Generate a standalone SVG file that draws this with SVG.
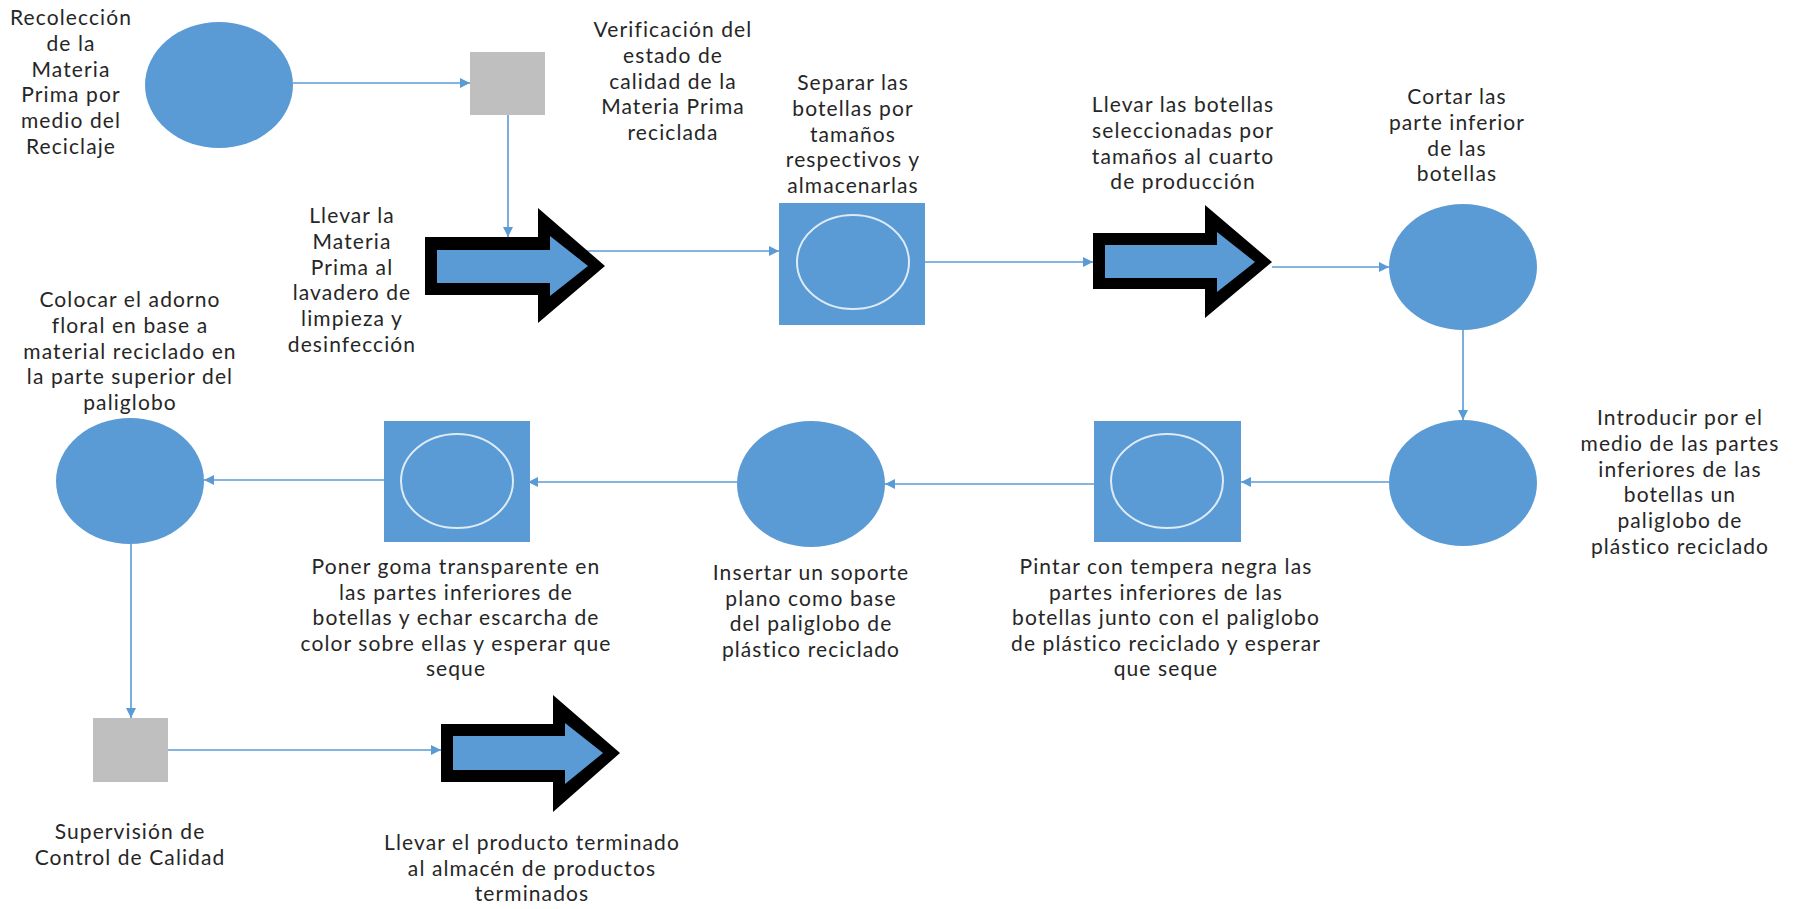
<svg xmlns="http://www.w3.org/2000/svg" width="1798" height="909" viewBox="0 0 1798 909">
<defs>
<style>
.t{font-family:"Lato","Liberation Sans",sans-serif;font-size:21px;letter-spacing:1.1px;fill:#262626;text-anchor:middle}
.c{fill:#5B9BD5}
.g{fill:#BFBFBF}
.sq{fill:#5B9BD5}
.in{fill:none;stroke:#DDEBF7;stroke-width:2}
.ln{stroke:#5B9BD5;stroke-width:1.6;fill:none;marker-end:url(#ah)}
.ao{fill:#000}
.ai{fill:#5B9BD5}
</style>
<marker id="ah" viewBox="0 0 10 10" refX="10" refY="5" markerWidth="6.5" markerHeight="6.5" orient="auto" markerUnits="strokeWidth">
<path d="M0,0 L10,5 L0,10 z" fill="#5B9BD5"/>
</marker>
</defs>
<rect width="1798" height="909" fill="#fff"/>

<g id="connectors">
<path class="ln" d="M293,83 H470"/>
<path class="ln" d="M508,115 V237"/>
<path class="ln" d="M580,251 H779"/>
<path class="ln" d="M925,262 H1093"/>
<path class="ln" d="M1272,267 H1389"/>
<path class="ln" d="M1463,330 V420"/>
<path class="ln" d="M1389,482 H1241"/>
<path class="ln" d="M1094,484 H885"/>
<path class="ln" d="M737,482 H528"/>
<path class="ln" d="M385,480 H204"/>
<path class="ln" d="M131,544 V718"/>
<path class="ln" d="M168,750 H441"/>
</g>

<g id="n-recoleccion">
<ellipse class="c" cx="219" cy="85" rx="74" ry="63"/>
<text class="t" x="71" y="25"><tspan x="71">Recolección</tspan><tspan x="71" dy="25.8">de la</tspan><tspan x="71" dy="25.8">Materia</tspan><tspan x="71" dy="25.8">Prima por</tspan><tspan x="71" dy="25.8">medio del</tspan><tspan x="71" dy="25.8">Reciclaje</tspan></text>
</g>

<g id="n-verificacion">
<rect class="g" x="470" y="52" width="75" height="63"/>
<text class="t" x="673" y="37"><tspan x="673">Verificación del</tspan><tspan x="673" dy="25.8">estado de</tspan><tspan x="673" dy="25.8">calidad de la</tspan><tspan x="673" dy="25.8">Materia Prima</tspan><tspan x="673" dy="25.8">reciclada</tspan></text>
</g>

<g id="n-lavadero">
<polygon class="ao" points="425,237 538,237 538,208 605,266 538,323 538,295 425,295"/>
<polygon class="ai" points="437,250 550,250 550,236 588,266 550,296 550,283 437,283"/>
<text class="t" x="352" y="223"><tspan x="352">Llevar la</tspan><tspan x="352" dy="25.8">Materia</tspan><tspan x="352" dy="25.8">Prima al</tspan><tspan x="352" dy="25.8">lavadero de</tspan><tspan x="352" dy="25.8">limpieza y</tspan><tspan x="352" dy="25.8">desinfección</tspan></text>
</g>

<g id="n-separar">
<rect class="sq" x="779" y="203" width="146" height="122"/>
<ellipse class="in" cx="853" cy="262" rx="56" ry="47"/>
<text class="t" x="853" y="90"><tspan x="853">Separar las</tspan><tspan x="853" dy="25.8">botellas por</tspan><tspan x="853" dy="25.8">tamaños</tspan><tspan x="853" dy="25.8">respectivos y</tspan><tspan x="853" dy="25.8">almacenarlas</tspan></text>
</g>

<g id="n-llevar-botellas">
<polygon class="ao" points="1093,233 1205,233 1205,205 1272,262 1205,318 1205,289 1093,289"/>
<polygon class="ai" points="1105,245 1217,245 1217,232 1255,262 1217,292 1217,278 1105,278"/>
<text class="t" x="1183" y="112"><tspan x="1183">Llevar las botellas</tspan><tspan x="1183" dy="25.8">seleccionadas por</tspan><tspan x="1183" dy="25.8">tamaños al cuarto</tspan><tspan x="1183" dy="25.8">de producción</tspan></text>
</g>

<g id="n-cortar">
<ellipse class="c" cx="1463" cy="267" rx="74" ry="63"/>
<text class="t" x="1457" y="104"><tspan x="1457">Cortar las</tspan><tspan x="1457" dy="25.8">parte inferior</tspan><tspan x="1457" dy="25.8">de las</tspan><tspan x="1457" dy="25.8">botellas</tspan></text>
</g>

<g id="n-introducir">
<ellipse class="c" cx="1463" cy="483" rx="74" ry="63"/>
<text class="t" x="1680" y="425"><tspan x="1680">Introducir por el</tspan><tspan x="1680" dy="25.8">medio de las partes</tspan><tspan x="1680" dy="25.8">inferiores de las</tspan><tspan x="1680" dy="25.8">botellas un</tspan><tspan x="1680" dy="25.8">paliglobo de</tspan><tspan x="1680" dy="25.8">plástico reciclado</tspan></text>
</g>

<g id="n-pintar">
<rect class="sq" x="1094" y="421" width="147" height="121"/>
<ellipse class="in" cx="1167" cy="481" rx="56" ry="47"/>
<text class="t" x="1166" y="574"><tspan x="1166">Pintar con tempera negra las</tspan><tspan x="1166" dy="25.5">partes inferiores de las</tspan><tspan x="1166" dy="25.5">botellas junto con el paliglobo</tspan><tspan x="1166" dy="25.5">de plástico reciclado y esperar</tspan><tspan x="1166" dy="25.5">que seque</tspan></text>
</g>

<g id="n-insertar">
<ellipse class="c" cx="811" cy="484" rx="74" ry="63"/>
<text class="t" x="811" y="580"><tspan x="811">Insertar un soporte</tspan><tspan x="811" dy="25.5">plano como base</tspan><tspan x="811" dy="25.5">del paliglobo de</tspan><tspan x="811" dy="25.5">plástico reciclado</tspan></text>
</g>

<g id="n-poner">
<rect class="sq" x="384" y="421" width="146" height="121"/>
<ellipse class="in" cx="457" cy="481" rx="56" ry="47"/>
<text class="t" x="456" y="574"><tspan x="456">Poner goma transparente en</tspan><tspan x="456" dy="25.5">las partes inferiores de</tspan><tspan x="456" dy="25.5">botellas y echar escarcha de</tspan><tspan x="456" dy="25.5">color sobre ellas y esperar que</tspan><tspan x="456" dy="25.5">seque</tspan></text>
</g>

<g id="n-colocar">
<ellipse class="c" cx="130" cy="481" rx="74" ry="63"/>
<text class="t" x="130" y="307"><tspan x="130">Colocar el adorno</tspan><tspan x="130" dy="25.8">floral en base a</tspan><tspan x="130" dy="25.8">material reciclado en</tspan><tspan x="130" dy="25.8">la parte superior del</tspan><tspan x="130" dy="25.8">paliglobo</tspan></text>
</g>

<g id="n-supervision">
<rect class="g" x="93" y="718" width="75" height="64"/>
<text class="t" x="130" y="839"><tspan x="130">Supervisión de</tspan><tspan x="130" dy="25.5">Control de Calidad</tspan></text>
</g>

<g id="n-almacen">
<polygon class="ao" points="441,724 553,724 553,695 620,753 553,812 553,782 441,782"/>
<polygon class="ai" points="453,736 565,736 565,723 603,753 565,784 565,770 453,770"/>
<text class="t" x="532" y="850"><tspan x="532">Llevar el producto terminado</tspan><tspan x="532" dy="25.5">al almacén de productos</tspan><tspan x="532" dy="25.5">terminados</tspan></text>
</g>
</svg>
